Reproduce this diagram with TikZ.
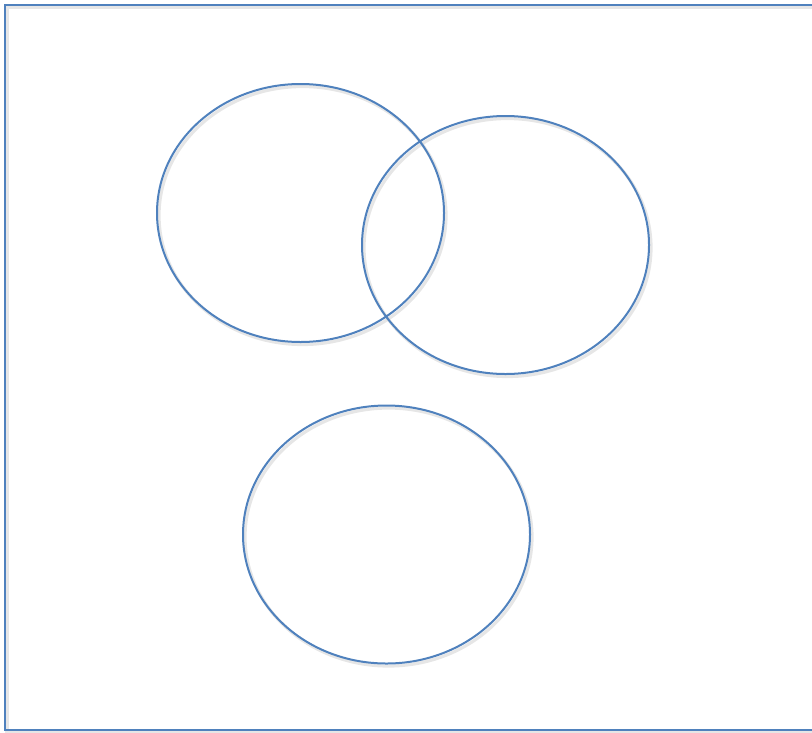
\documentclass[tikz,border=0pt]{standalone}
\usepackage{tikz}
\usepackage{xcolor}
\definecolor{OutlineBlue}{RGB}{79,129,189}
\definecolor{ShadowGray}{RGB}{200,200,200}
\tikzset{
  setline/.style={draw=OutlineBlue, line width=1.5pt},
  setshadow/.style={draw=ShadowGray, line width=2.4pt, opacity=0.45}
}

\begin{document}
\begin{tikzpicture}[x=0.75pt, y=-0.75pt]
        \useasboundingbox (0,0) rectangle (812,732);
        % universe frame
        \draw[setshadow] (7,7) rectangle (818,732);
        \draw[setline] (5,4.5) rectangle (816,729.5);
        % three sets
        \draw[setshadow] (302.5,215.5) ellipse (143.5 and 129);
        \draw[setshadow] (507.5,247.5) ellipse (143.5 and 129);
        \draw[setshadow] (388.5,537) ellipse (143.5 and 129);
        \draw[setline] (300.5,213) ellipse (143.5 and 129);
        \draw[setline] (505.5,245) ellipse (143.5 and 129);
        \draw[setline] (386.5,534.5) ellipse (143.5 and 129);
      \end{tikzpicture}
\end{document}
